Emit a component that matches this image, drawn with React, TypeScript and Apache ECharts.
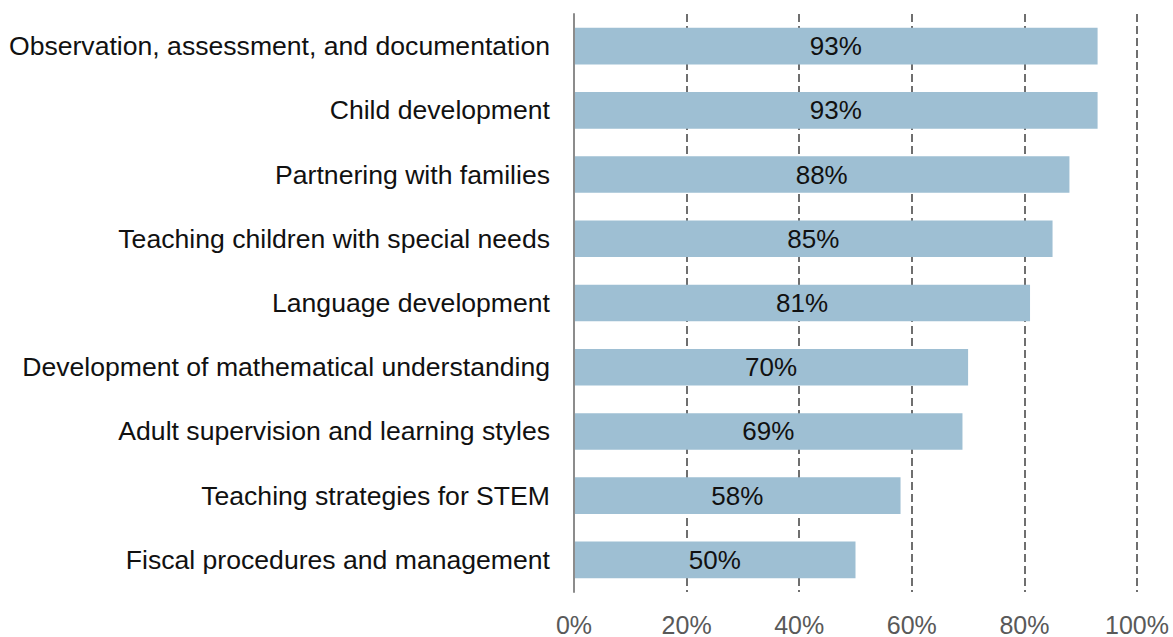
import React, { useEffect, useRef } from "react";
import * as echarts from "echarts";

const categories = [
  "Observation, assessment, and documentation",
  "Child development",
  "Partnering with families",
  "Teaching children with special needs",
  "Language development",
  "Development of mathematical understanding",
  "Adult supervision and learning styles",
  "Teaching strategies for STEM",
  "Fiscal procedures and management",
];
const values = [93, 93, 88, 85, 81, 70, 69, 58, 50];
const tickValues = [0, 20, 40, 60, 80, 100];

const FONT = "Arial, 'Liberation Sans', sans-serif";

export default function App() {
  const ref = useRef<HTMLDivElement>(null);
  useEffect(() => {
    if (!ref.current) return;
    const chart = echarts.init(ref.current, undefined, { renderer: "svg" });
    chart.setOption({
      animation: false,
      grid: { left: 574, right: 36, top: 14, bottom: 43, containLabel: false },
      xAxis: {
        type: "value",
        min: tickValues[0],
        max: tickValues[tickValues.length - 1],
        interval: 20,
        axisLine: { show: false },
        axisTick: { show: false },
        axisLabel: {
          formatter: (v: number) => v + "%",
          color: "#595959",
          fontSize: 25,
          fontFamily: FONT,
          margin: 20,
          showMinLabel: true,
          showMaxLabel: true,
        },
        splitLine: {
          show: true,
          lineStyle: { color: "#6f6f6f", width: 2, type: [8, 4] },
        },
      },
      yAxis: {
        type: "category",
        data: categories,
        inverse: true,
        axisLine: { show: true, lineStyle: { color: "#8c8c8c", width: 2 } },
        axisTick: { show: false },
        axisLabel: {
          color: "#111",
          fontSize: 26.6,
          fontFamily: FONT,
          margin: 24,
        },
        z: 5,
      },
      series: [
        {
          type: "bar",
          data: values,
          barWidth: "57%",
          itemStyle: { color: "#9ebfd3" },
          z: 3,
          label: {
            show: true,
            position: "inside",
            formatter: "{c}%",
            color: "#111",
            fontSize: 26,
            fontFamily: FONT,
          },
        },
      ],
    });
    return () => chart.dispose();
  }, []);
  return <div ref={ref} style={{ width: 1173, height: 637, position: "absolute", left: 0, top: 0 }} />;
}
